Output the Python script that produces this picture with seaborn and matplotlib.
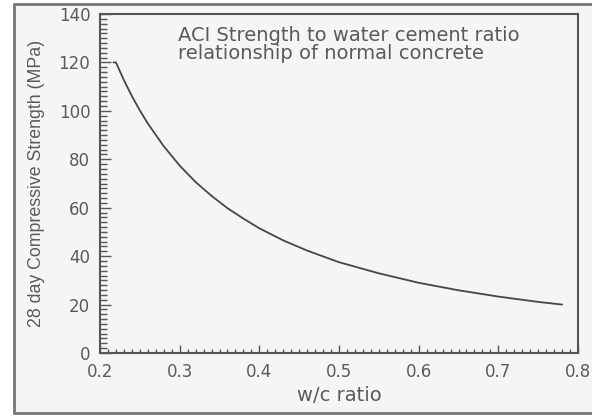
"""ACI strength vs water/cement ratio curve."""

import matplotlib
matplotlib.use("Agg")
import matplotlib.pyplot as plt
from matplotlib.lines import Line2D
from matplotlib.patches import Rectangle
from matplotlib.ticker import MultipleLocator
import pandas as pd
import seaborn as sns

# values
wc_ratio = [0.217, 0.22, 0.23, 0.24, 0.25, 0.26, 0.28, 0.30, 0.32, 0.34, 0.36,
            0.38, 0.40, 0.43, 0.46, 0.50, 0.55, 0.60, 0.65, 0.70, 0.75, 0.78]
strength = [120.0, 120.0, 112.7, 106.1, 100.2, 94.8, 85.4, 77.4, 70.6, 64.9, 59.8,
            55.5, 51.5, 46.5, 42.3, 37.5, 32.9, 29.0, 25.9, 23.3, 21.1, 20.0]

x_ticks = [0.2, 0.3, 0.4, 0.5, 0.6, 0.7, 0.8]
y_ticks = [0, 20, 40, 60, 80, 100, 120, 140]

TITLE = "ACI Strength to water cement ratio\nrelationship of normal concrete"
X_LABEL = "w/c ratio"
Y_LABEL = "28 day Compressive Strength (MPa)"

BG = "#f5f5f5"
AXIS = "#555555"
TEXT = "#5a5a5a"
FRAME = "#777777"
WIDE = ["DejaVu Sans"]
NARROW = ["Liberation Sans", "DejaVu Sans"]

sns.set_theme(style="white")
plt.rcParams["font.family"] = WIDE

df = pd.DataFrame({"wc": wc_ratio, "fc": strength})

fig = plt.figure(figsize=(5.92, 4.16), dpi=100, facecolor="white")
# picture frame, open on the right like the source image
x0, y0, y1 = 14 / 592, 1 - 413 / 416, 1 - 4 / 416
fig.patches.append(Rectangle((x0, y0), 1 - x0, y1 - y0, transform=fig.transFigure,
                             facecolor=BG, edgecolor="none", zorder=-5))
for xs, ys in [([x0, x0], [y0, y1]), ([x0, 1], [y1, y1]), ([x0, 1], [y0, y0])]:
    fig.lines.append(Line2D(xs, ys, transform=fig.transFigure, color=FRAME,
                            linewidth=2, zorder=-4))

ax = fig.add_axes([100 / 592, 1 - 353 / 416, 478 / 592, 339 / 416])
ax.set_zorder(2)
ax.set_facecolor(BG)

sns.lineplot(data=df, x="wc", y="fc", ax=ax, color="#464646", linewidth=1.3,
             sort=False)

ax.set_xlim(0.2, 0.8)
ax.set_ylim(0, 140)
ax.set_xticks(x_ticks)
ax.set_xticklabels([f"{t:.1f}" for t in x_ticks])
ax.set_yticks(y_ticks)
ax.xaxis.set_minor_locator(MultipleLocator(0.01))
ax.yaxis.set_minor_locator(MultipleLocator(2))
ax.tick_params(axis="both", which="both", direction="in", colors=AXIS,
               labelcolor=TEXT, labelsize=12, width=1.0,
               bottom=True, left=True, top=False, right=False)
ax.tick_params(axis="y", which="major", length=8, pad=7)
ax.tick_params(axis="y", which="minor", length=5)
ax.tick_params(axis="x", which="major", length=6, pad=7)
ax.tick_params(axis="x", which="minor", length=3)
for spine in ax.spines.values():
    spine.set_color(AXIS)
    spine.set_linewidth(1.5)

ax.set_xlabel(X_LABEL, fontsize=14, color=TEXT, labelpad=4)
ax.set_ylabel(Y_LABEL, fontsize=12.75, color=TEXT, labelpad=10,
              family=NARROW)
ax.text(0.164, 0.965, TITLE, transform=ax.transAxes, ha="left", va="top",
        fontsize=14, color=TEXT, linespacing=0.95)

fig.savefig("out.png", dpi=100, facecolor="white")
